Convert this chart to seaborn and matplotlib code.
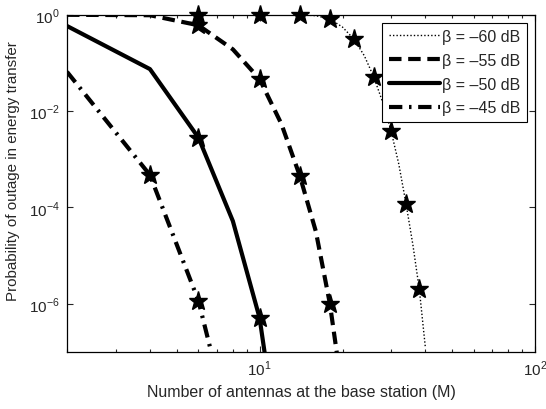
import numpy as np
import pandas as pd
import matplotlib
matplotlib.use("Agg")
import matplotlib.pyplot as plt
import matplotlib.ticker as mticker
import seaborn as sns

# antennas at the base station (curves are evaluated at every even M)
antennas = [2, 4, 6, 8, 10, 12, 14, 16, 18, 20, 22, 24, 26, 28, 30, 32, 34, 36, 38, 40]

# outage probability, one list per beta
out_60 = [1.0, 1.0, 1.0, 1.0, 0.999, 0.995, 0.99, 0.95, 0.81, 0.55, 0.31, 0.14,
          0.05, 0.015, 3.9e-3, 8e-4, 1.2e-4, 1.7e-5, 2e-6, 1.2e-7]
out_55 = [0.99, 0.97, 0.6, 0.19, 0.046, 5.4e-3, 4.5e-4, 3.2e-5, 1e-6, 1.4e-8]
out_50 = [0.58, 0.074, 2.8e-3, 5.2e-5, 5.1e-7, 4e-10]
out_45 = [0.065, 4.7e-4, 1.15e-6, 1.6e-9]

# star markers every fourth antenna, starting at M = 6
star_60 = [6, 10, 14, 18, 22, 26, 30, 34, 38]
star_55 = [6, 10, 14, 18]
star_50 = [6, 10]
star_45 = [4, 6]

labels = ["β = –60 dB", "β = –55 dB", "β = –50 dB", "β = –45 dB"]
series = [out_60, out_55, out_50, out_45]
stars = [star_60, star_55, star_50, star_45]
styles = [(0, (1, 1.5)), (0, (3, 1.6)), "-", (0, (3.2, 1.6, 0.6, 1.6))]
widths = [1.0, 3.0, 3.0, 3.0]

sns.set_style("ticks")
plt.rcParams["font.family"] = ["Liberation Sans", "DejaVu Sans"]
plt.rcParams["mathtext.fontset"] = "custom"
plt.rcParams["mathtext.rm"] = "Liberation Sans"

fs = 11.5

fig = plt.figure(figsize=(5.46, 4.10), dpi=100)
ax = fig.add_axes([0.1227, 0.139, 0.8573, 0.823])

for lab, vals, st, ls, lw in zip(labels, series, stars, styles, widths):
    df = pd.DataFrame({"M": antennas[:len(vals)], "P": vals})
    sns.lineplot(data=df, x="M", y="P", ax=ax, color="black", lw=lw,
                 linestyle=ls, label=lab)
    sdf = df[df["M"].isin(st)]
    ax.plot(sdf["M"], sdf["P"], linestyle="none", marker="*", ms=14,
            color="black", clip_on=False, zorder=5)

ax.set_xscale("log")
ax.set_yscale("log")
ax.set_xlim(2, 100)
ax.set_ylim(1e-7, 1)
ax.set_xticks([10, 100])
ax.set_xticklabels([r"$10^{1}$", r"$10^{2}$"])
ax.xaxis.set_minor_locator(mticker.FixedLocator([2, 3, 4, 5, 6, 7, 8, 9, 20, 30, 40, 50, 60, 70, 80, 90]))
ax.xaxis.set_minor_formatter(mticker.NullFormatter())
ax.set_yticks([1e-6, 1e-4, 1e-2, 1])
ax.set_yticklabels([r"$10^{-6}$", r"$10^{-4}$", r"$10^{-2}$", r"$10^{0}$"])
ax.yaxis.set_minor_locator(mticker.NullLocator())
ax.tick_params(which="both", direction="in", top=True, right=True,
               labelsize=fs - 0.5, width=0.8, pad=5)
ax.tick_params(which="major", length=4)
ax.tick_params(which="minor", length=2)
for sp in ax.spines.values():
    sp.set_linewidth(0.9)
    sp.set_color("black")

ax.set_xlabel("Number of antennas at the base station (M)", fontsize=fs, labelpad=4)
ax.set_ylabel("Probability of outage in energy transfer", fontsize=fs - 0.6, labelpad=4)
ax.yaxis.set_label_coords(-0.1, 0.54)

leg = ax.legend(loc="upper right", fontsize=fs, frameon=True, fancybox=False,
                edgecolor="black", framealpha=1, handlelength=3.2,
                handletextpad=0.15, borderaxespad=0.5, borderpad=0.4,
                labelspacing=0.55)
leg.get_frame().set_linewidth(0.8)

fig.savefig("out.png", dpi=100)
